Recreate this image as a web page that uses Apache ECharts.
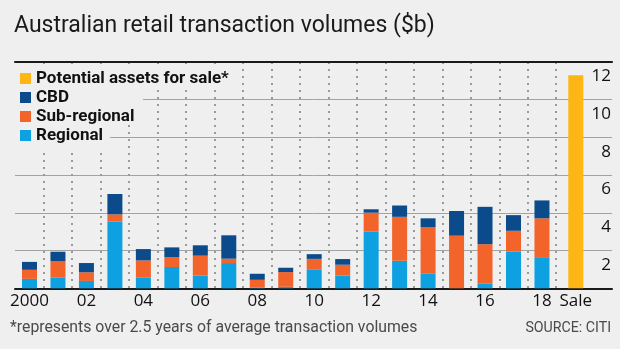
<!DOCTYPE html>
<html>
<head>
<meta charset="utf-8">
<script src="https://cdn.jsdelivr.net/npm/echarts@6/dist/echarts.min.js"></script>
<style>
  html, body { margin: 0; padding: 0; background: #efefef; }
  #chart { width: 620px; height: 349px; }
</style>
</head>
<body>
<div id="chart"></div>
<script>
// Annual retail transaction volumes, $b
const years = ['2000', '01', '02', '03', '04', '05', '06', '07', '08', '09',
               '10', '11', '12', '13', '14', '15', '16', '17', '18'];
const regional    = [0.50, 0.58, 0.39, 3.53, 0.58, 1.13, 0.67, 1.34, 0.05, 0.08,
                     1.01, 0.67, 3.00, 1.46, 0.77, 0.00, 0.24, 1.94, 1.61];
const subRegional = [0.48, 0.85, 0.46, 0.39, 0.90, 0.53, 1.06, 0.23, 0.40, 0.78,
                     0.55, 0.58, 1.01, 2.33, 2.46, 2.79, 2.10, 1.11, 2.10];
const cbd         = [0.42, 0.51, 0.49, 1.08, 0.60, 0.51, 0.55, 1.24, 0.32, 0.23,
                     0.25, 0.30, 0.18, 0.60, 0.48, 1.31, 1.98, 0.83, 0.95];
const saleCategories = ['Sale'];
const forSale = [11.3];

const yMin = 0, yMax = 12, yStep = 2;

const BG = '#efefef';
const INK = '#1a1a1a';
const C_REGIONAL = '#0ea1e1';
const C_SUB = '#f3642a';
const C_CBD = '#0b4b8b';
const C_SALE = '#fdb614';

const TOP = 62, BOTTOM = 349 - 288.3;

const chart = echarts.init(document.getElementById('chart'), null, { renderer: 'canvas' });

const hiddenY = (gridIndex) => ({
  type: 'value', gridIndex, min: yMin, max: yMax, interval: yStep, show: false
});

chart.setOption({
  backgroundColor: BG,
  animation: false,
  title: [
    {
      text: 'Australian retail transaction volumes ($b)',
      left: 9, top: 10,
      textStyle: { fontFamily: 'Roboto', fontWeight: 'normal', fontSize: 23, color: INK }
    },
    {
      text: '*represents over 2.5 years of average transaction volumes',
      left: 5, top: 315.5,
      textStyle: { fontFamily: 'Roboto', fontWeight: 'normal', fontSize: 15.8, color: '#4a4a4a' }
    },
    {
      text: 'SOURCE: CITI',
      right: 4, top: 316,
      textStyle: { fontFamily: 'Roboto', fontWeight: 'normal', fontSize: 14.2, color: '#4a4a4a' }
    }
  ],
  legend: {
    orient: 'vertical',
    left: 15, top: 65,
    itemWidth: 11, itemHeight: 11, itemGap: 2,
    icon: 'rect',
    selectedMode: false,
    data: ['Potential assets for sale*', 'CBD', 'Sub-regional', 'Regional'],
    textStyle: { fontFamily: 'Roboto', fontWeight: 'bold', fontSize: 17, color: '#111' }
  },
  graphic: {
    elements: [
      { type: 'rect', z: 3, silent: true, shape: { x: 10, y: 64, width: 226, height: 23 }, style: { fill: BG } },
      { type: 'rect', z: 3, silent: true, shape: { x: 10, y: 87, width: 133, height: 38 }, style: { fill: BG } },
      { type: 'rect', z: 3, silent: true, shape: { x: 10, y: 125, width: 100, height: 24 }, style: { fill: BG } }
    ]
  },
  grid: [
    // frame: horizontal rules, baseline and value labels
    { left: 15, right: 8, top: TOP, bottom: BOTTOM },
    // yearly bars
    { left: 15.25, width: 540.95, top: TOP, bottom: BOTTOM },
    // assets for sale
    { left: 556.2, width: 39.2, top: TOP, bottom: BOTTOM }
  ],
  xAxis: [
    {
      type: 'value', gridIndex: 0, min: 0, max: 1, position: 'bottom',
      axisLine: { show: true, lineStyle: { color: INK, width: 2 } },
      axisTick: { show: false }, axisLabel: { show: false }, splitLine: { show: false }
    },
    {
      type: 'value', gridIndex: 0, min: 0, max: 1, position: 'top',
      axisLine: { show: true, lineStyle: { color: INK, width: 2 } },
      axisTick: { show: false }, axisLabel: { show: false }, splitLine: { show: false }
    },
    {
      type: 'category', gridIndex: 1, data: years,
      axisLine: { show: false },
      axisTick: { show: false },
      axisLabel: {
        interval: 1, margin: 4,
        fontFamily: 'Open Sans', fontSize: 17, color: '#111'
      },
      splitLine: {
        show: true,
        // a dotted divider after every year (none before the first)
        interval: (index) => index > 0,
        lineStyle: { color: '#9a9a9a', width: 2, type: [2, 5] }
      }
    },
    {
      type: 'category', gridIndex: 2, data: saleCategories,
      axisLine: { show: false }, axisTick: { show: false },
      axisLabel: { margin: 4, fontFamily: 'Open Sans', fontSize: 17, color: '#111' },
      splitLine: { show: false }
    }
  ],
  yAxis: [
    {
      type: 'value', gridIndex: 0, min: yMin, max: yMax, interval: yStep, position: 'right',
      axisLine: { show: false }, axisTick: { show: false },
      axisLabel: {
        inside: true, margin: 1, showMinLabel: false,
        verticalAlign: 'top', padding: [6, 0, 0, 0],
        fontFamily: 'Open Sans', fontSize: 17, color: '#111'
      },
      splitLine: {
        show: true, showMinLine: false, showMaxLine: false,
        lineStyle: { color: '#a3a3a3', width: 1 }
      }
    },
    hiddenY(1),
    hiddenY(2)
  ],
  series: [
    {
      name: 'Regional', type: 'bar', stack: 'volume',
      xAxisIndex: 2, yAxisIndex: 1, barWidth: 15,
      itemStyle: { color: C_REGIONAL }, data: regional
    },
    {
      name: 'Sub-regional', type: 'bar', stack: 'volume',
      xAxisIndex: 2, yAxisIndex: 1, barWidth: 15,
      itemStyle: { color: C_SUB }, data: subRegional
    },
    {
      name: 'CBD', type: 'bar', stack: 'volume',
      xAxisIndex: 2, yAxisIndex: 1, barWidth: 15,
      itemStyle: { color: C_CBD }, data: cbd
    },
    {
      name: 'Potential assets for sale*', type: 'bar',
      xAxisIndex: 3, yAxisIndex: 2, barWidth: 15,
      itemStyle: { color: C_SALE }, data: forSale
    }
  ]
});
</script>
</body>
</html>
